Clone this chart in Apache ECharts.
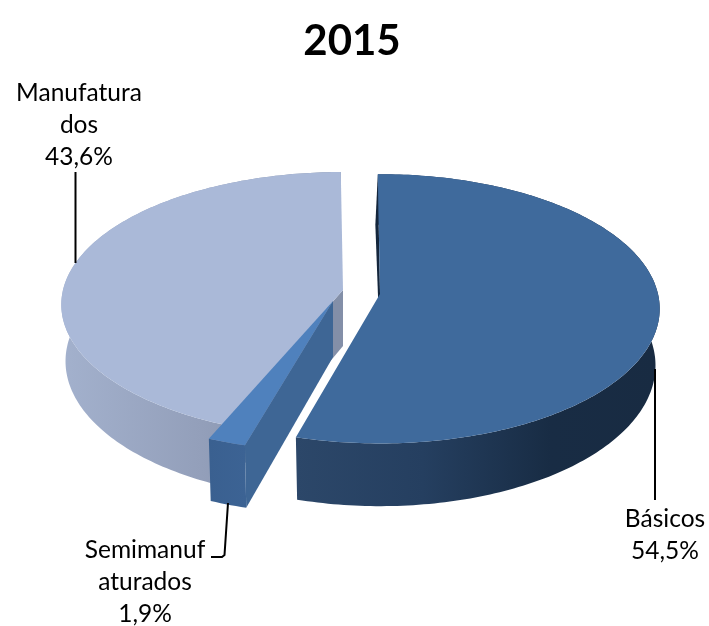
<!DOCTYPE html>
<html>
<head>
<meta charset="utf-8">
<style>
  html, body { margin: 0; padding: 0; background: #fff; }
  #main { width: 709px; height: 626px; }
</style>
<script src="https://cdn.jsdelivr.net/npm/echarts@6/dist/echarts.min.js"></script>
</head>
<body>
<div id="main"></div>
<script>
// chart data
const chartTitle = '2015';
const categories = ['Básicos', 'Semimanufaturados', 'Manufaturados'];
const values = [54.5, 1.9, 43.6];
const labelNames = ['Básicos', 'Semimanuf\naturados', 'Manufatura\ndos'];

// exploded slice layout: apex of each slice, radii of the disc
const sliceLayout = [
    {cx: 380, cy: 294, rx: 278, ry: 133, cutDx: -2.5},
    {cx: 333, cy: 301, rx: 291, ry: 134, cutDx: 0},
    {cx: 343, cy: 290, rx: 280, ry: 131, cutDx: 0}
];
const sliceColors = [
    {top: '#3F6A9C', cut: '#14263C', wall: [[0, '#2C4769'], [0.35, '#253F60'], [0.7, '#182C44'], [1, '#182B42']]},
    {top: '#4F81BD', cut: '#3E6695', wall: [[0, '#3A6090'], [1, '#3C6394']]},
    {top: '#AAB9D8', cut: '#838FA8', wall: [[0, '#A3B1CD'], [0.5, '#939FBA'], [1, '#7F8BA2']]}
];

const startOffset = -0.5; // first slice starts a hair left of 12 o'clock
const tilt = 0.11;        // perspective of the disc
const depthY = 56;
const lowerRx = 0.985;
const lowerRy = 1.045;
const drawOrder = [2, 1, 0];

const total = values.reduce((a, b) => a + b, 0);

function sliceAngles(idx) {
    let sum = 0;
    for (let i = 0; i < idx; i++) sum += values[i];
    return [startOffset + sum / total * 360, startOffset + (sum + values[idx]) / total * 360];
}

function project(s, deg, lower) {
    const a = deg * Math.PI / 180;
    const u = Math.sin(a);
    const v = -Math.cos(a);
    const d = 1 - tilt * v;
    if (lower) {
        return [s.cx + s.rx * lowerRx * u / d, s.cy + depthY + s.ry * lowerRy * v / d];
    }
    return [s.cx + s.rx * u / d, s.cy + s.ry * v / d];
}

function arc(s, from, to, lower) {
    const pts = [];
    const n = Math.ceil(Math.abs(to - from));
    for (let i = 0; i <= n; i++) {
        pts.push(project(s, from + (to - from) * i / n, lower));
    }
    return pts;
}

function renderSlice(params, api) {
    const idx = api.value(0);
    const s = sliceLayout[idx];
    const c = sliceColors[idx];
    const [a0, a1] = sliceAngles(idx);
    const apex = [s.cx, s.cy];
    const apexLow = [s.cx, s.cy + depthY];
    const rimLow = project(s, a0, true);

    const wall = arc(s, a0, a1, false).concat(arc(s, a1, a0, true));
    const cut = [apex, project(s, a0, false), [rimLow[0] + s.cutDx, rimLow[1]], apexLow];
    const top = [apex].concat(arc(s, a0, a1, false));

    return {
        type: 'group',
        children: [
            {type: 'polygon', shape: {points: wall}, style: {
                fill: new echarts.graphic.LinearGradient(0, 0, 1, 0, c.wall.map(g => ({offset: g[0], color: g[1]})))
            }},
            {type: 'polygon', shape: {points: cut}, style: {fill: c.cut}},
            {type: 'polygon', shape: {points: top}, style: {fill: c.top}}
        ]
    };
}

function labelText(i) {
    return labelNames[i] + '\n' + values[i].toFixed(1).replace('.', ',') + '%';
}

const labelFont = {fontFamily: 'Lato', fontSize: 24.5, lineHeight: 32, fill: '#000', textAlign: 'center', textVerticalAlign: 'middle'};
const leaderStyle = {stroke: '#000', lineWidth: 2, fill: 'none'};

const chart = echarts.init(document.getElementById('main'), null, {renderer: 'canvas'});
chart.setOption({
    animation: false,
    backgroundColor: '#fff',
    title: {
        text: chartTitle,
        left: 347,
        top: 15,
        textAlign: 'center',
        textStyle: {fontFamily: 'Lato', fontSize: 42, fontWeight: 'bold', color: '#000'}
    },
    series: [{
        type: 'custom',
        coordinateSystem: 'none',
        renderItem: renderSlice,
        silent: true,
        data: drawOrder.map(i => ({name: categories[i], value: [i, values[i]]}))
    }],
    graphic: [
        {type: 'polyline', shape: {points: [[75.5, 172], [75.5, 263]]}, style: leaderStyle, z: 10},
        {type: 'polyline', shape: {points: [[655, 369], [655, 500]]}, style: leaderStyle, z: 10},
        {type: 'polyline', shape: {points: [[228, 503], [224.5, 555], [222, 557], [211, 557]]}, style: leaderStyle, z: 10},
        {type: 'text', x: 79, y: 125, style: Object.assign({text: labelText(2)}, labelFont), z: 10},
        {type: 'text', x: 665, y: 535, style: Object.assign({text: labelText(0)}, labelFont), z: 10},
        {type: 'text', x: 145, y: 582, style: Object.assign({text: labelText(1)}, labelFont), z: 10}
    ]
});
</script>
</body>
</html>
